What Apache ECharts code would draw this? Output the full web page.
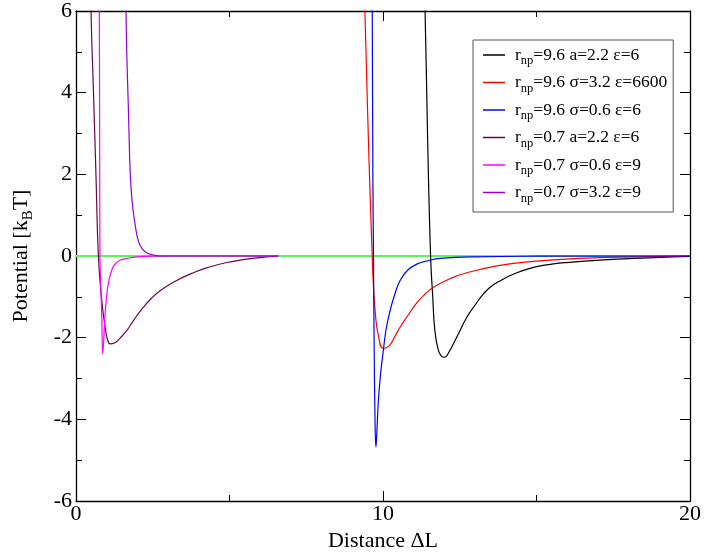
<!DOCTYPE html>
<html>
<head>
<meta charset="UTF-8">
<title>Potential</title>
<script type="text/javascript" src="https://cdn.jsdelivr.net/npm/echarts@6/dist/echarts.min.js"></script>
</head>
<body style="margin:0">
<div id="main" style="width:704px;height:559px;"></div>
<script type="text/javascript">
// values, [distance, potential]
var zeroLine = [[0, 0], [20, 0]];
var black96 = [[11.3, 7.5], [11.37, 6], [11.45, 3], [11.55, 0], [11.62, -1.0], [11.69, -1.83], [11.8, -2.3], [11.9, -2.45], [12.0, -2.48],
  [12.15, -2.35], [12.4, -1.99], [12.73, -1.5], [13.0, -1.2], [13.27, -0.93], [13.5, -0.76], [13.81, -0.61], [14.3, -0.43], [14.9, -0.28],
  [15.4, -0.21], [15.98, -0.16], [17.07, -0.1], [18.15, -0.06], [19.2, -0.03], [20, -0.01]];
var red96 = [[9.35, 7.5], [9.41, 6], [9.5, 3.5], [9.58, 1.5], [9.65, 0], [9.68, -0.6], [9.75, -1.4], [9.85, -1.95], [10.01, -2.26],
  [10.2, -2.2], [10.4, -1.95], [10.55, -1.75], [10.77, -1.5], [11.1, -1.15], [11.35, -0.95], [11.63, -0.77], [12.2, -0.55], [12.73, -0.41], [13.81, -0.23],
  [14.5, -0.16], [15.44, -0.1], [17.07, -0.04], [19.2, -0.01], [20, 0]];
var blue96 = [[9.64, 7.5], [9.65, 6], [9.67, 2], [9.69, 0], [9.71, -2], [9.74, -4.0], [9.77, -4.68], [9.8, -4.3], [9.85, -3.54],
  [9.92, -2.9], [10.01, -2.32], [10.1, -1.8], [10.23, -1.34], [10.38, -0.95], [10.55, -0.61], [10.8, -0.35], [11.1, -0.2],
  [11.5, -0.11], [11.86, -0.06], [13.0, -0.02], [15, -0.005], [20, 0]];
var maroon07 = [[0.47, 7.5], [0.49, 6], [0.57, 4], [0.65, 2], [0.73, 0], [0.84, -1.1], [0.95, -1.75], [1.03, -2.05], [1.11, -2.15],
  [1.25, -2.13], [1.45, -2.0], [1.65, -1.83], [1.9, -1.55], [2.19, -1.26], [2.45, -1.04], [2.74, -0.85], [3.2, -0.63],
  [3.82, -0.41], [4.35, -0.27], [4.91, -0.16], [5.45, -0.09], [5.99, -0.04], [6.59, 0]];
var magenta07 = [[0.75, 7.5], [0.76, 6], [0.77, 3], [0.78, 0], [0.81, -0.8], [0.84, -1.5], [0.87, -2.4], [0.9, -2.1],
  [0.94, -1.5], [0.99, -1.05], [1.05, -0.69], [1.15, -0.38], [1.27, -0.2], [1.45, -0.1], [1.65, -0.06], [2.0, -0.02],
  [2.3, -0.01], [3.0, 0], [6.59, 0]];
var violet07 = [[1.62, 7.5], [1.63, 6], [1.66, 4.8], [1.7, 3.78], [1.73, 2.9], [1.76, 2.15], [1.8, 1.6], [1.85, 1.18],
  [1.93, 0.75], [2.03, 0.37], [2.15, 0.18], [2.3, 0.08], [2.5, 0.03], [2.74, 0.0], [6.59, 0]];

var names = [
  '{r|r}{s|np}{t|=9.6 a=2.2 \u03b5=6}',
  '{r|r}{s|np}{t|=9.6 \u03c3=3.2 \u03b5=6600}',
  '{r|r}{s|np}{t|=9.6 \u03c3=0.6 \u03b5=6}',
  '{r|r}{s|np}{t|=0.7 a=2.2 \u03b5=6}',
  '{r|r}{s|np}{t|=0.7 \u03c3=0.6 \u03b5=9}',
  '{r|r}{s|np}{t|=0.7 \u03c3=3.2 \u03b5=9}'
];
var colors = ['#000000', '#ff0000', '#0000ff', '#670748', '#ff00ff', '#9400d3'];
var curves = [black96, red96, blue96, maroon07, magenta07, violet07];

var serif = 'Liberation Serif';
var chart = echarts.init(document.getElementById('main'));

var series = [{
  name: 'zero', type: 'line', data: zeroLine, showSymbol: false, silent: true,
  lineStyle: { color: '#5ef25e', width: 2 }
}];
for (var i = 0; i < curves.length; i++) {
  series.push({
    name: names[i], type: 'line', data: curves[i], showSymbol: false, smooth: 0.5, clip: true,
    lineStyle: { color: colors[i], width: 1.2 }, itemStyle: { color: colors[i] }
  });
}

var tickStyle = { color: '#000', width: 1 };
var option = {
  animation: false,
  backgroundColor: '#fff',
  grid: { left: 76, right: 14, top: 9, bottom: 58 },
  legend: {
    data: names, orient: 'vertical', left: 473, top: 40,
    backgroundColor: '#fff', borderColor: '#555', borderWidth: 1, padding: [6, 6, 7, 10],
    icon: 'rect', itemWidth: 22, itemHeight: 1.5, itemGap: 6,
    textStyle: {
      fontFamily: serif, color: '#000',
      rich: {
        r: { fontFamily: serif, fontSize: 17.5, color: '#000', padding: [0, 0, 0, 5] },
        s: { fontFamily: serif, fontSize: 12.5, color: '#000', verticalAlign: 'bottom', padding: [12, 0, 0, 0] },
        t: { fontFamily: serif, fontSize: 17.5, color: '#000' }
      }
    }
  },
  xAxis: [{
    type: 'value', min: 0, max: 20, interval: 10, position: 'bottom',
    name: 'Distance \u0394L', nameLocation: 'middle', nameGap: 28,
    nameTextStyle: { fontFamily: serif, fontSize: 22, color: '#000' },
    axisLine: { onZero: false, lineStyle: { color: '#000', width: 1.3 } },
    axisTick: { inside: true, length: 10, lineStyle: tickStyle },
    minorTick: { show: true, splitNumber: 2, length: 6, lineStyle: tickStyle },
    axisLabel: { fontFamily: serif, fontSize: 22, color: '#000', margin: 2 },
    splitLine: { show: false }
  }, {
    type: 'value', min: 0, max: 20, interval: 10, position: 'top',
    axisLine: { onZero: false, lineStyle: { color: '#000', width: 1.3 } },
    axisTick: { inside: true, length: 10, lineStyle: tickStyle },
    minorTick: { show: true, splitNumber: 2, length: 6, lineStyle: tickStyle },
    axisLabel: { show: false }, splitLine: { show: false }
  }],
  yAxis: [{
    type: 'value', min: -6, max: 6, interval: 2, position: 'left',
    name: '{a|Potential [k}{s|B}{a|T]}', nameLocation: 'middle', nameGap: 40, nameRotate: 90,
    nameTextStyle: {
      rich: {
        a: { fontFamily: serif, fontSize: 22, color: '#000' },
        s: { fontFamily: serif, fontSize: 15, color: '#000', padding: [14, 0, 0, 0], verticalAlign: 'bottom' }
      }
    },
    axisLine: { onZero: false, lineStyle: { color: '#000', width: 1.3 } },
    axisTick: { inside: true, length: 10, lineStyle: tickStyle },
    minorTick: { show: true, splitNumber: 2, length: 6, lineStyle: tickStyle },
    axisLabel: { fontFamily: serif, fontSize: 22, color: '#000', margin: 4 },
    splitLine: { show: false }
  }, {
    type: 'value', min: -6, max: 6, interval: 2, position: 'right',
    axisLine: { onZero: false, lineStyle: { color: '#000', width: 1.3 } },
    axisTick: { inside: true, length: 10, lineStyle: tickStyle },
    minorTick: { show: true, splitNumber: 2, length: 6, lineStyle: tickStyle },
    axisLabel: { show: false }, splitLine: { show: false }
  }],
  series: series
};
chart.setOption(option);
</script>
</body>
</html>
